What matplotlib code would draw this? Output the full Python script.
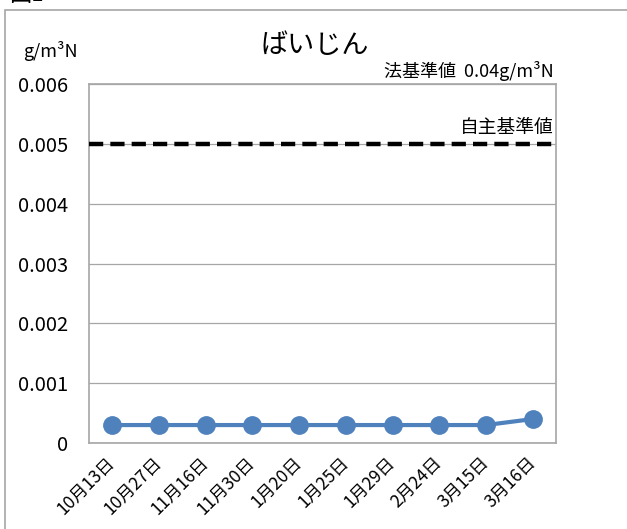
import matplotlib
matplotlib.use("Agg")
import matplotlib.pyplot as plt
from matplotlib.patches import Rectangle

plt.rcParams['font.family'] = ['Noto Sans CJK JP', 'DejaVu Sans']

dates = ["10月13日", "10月27日", "11月16日", "11月30日", "1月20日",
         "1月25日", "1月29日", "2月24日", "3月15日", "3月16日"]
dust = [0.0003, 0.0003, 0.0003, 0.0003, 0.0003,
        0.0003, 0.0003, 0.0003, 0.0003, 0.0004]
self_limit = 0.005
yticks = [0, 0.001, 0.002, 0.003, 0.004, 0.005, 0.006]
ytick_labels = ["0", "0.001", "0.002", "0.003", "0.004", "0.005", "0.006"]

W, H = 627, 529
fig = plt.figure(figsize=(W / 100, H / 100), dpi=100)

# outer frame of the figure panel
fig.patches.append(Rectangle((5 / W, -0.1), 1.1, (H - 10) / H + 0.1,
                             transform=fig.transFigure, fill=False,
                             edgecolor="#a6a6a6", linewidth=1.2))
fig.text(9 / W, 1 - 1 / H, "図1", fontsize=16, va="baseline", ha="left")

ax = fig.add_axes([89 / W, 1 - 443 / H, (556 - 89) / W, (443 - 84) / H])
x = list(range(len(dates)))

ax.set_ylim(0, 0.006)
ax.set_xlim(-0.5, len(dates) - 0.5)
ax.set_yticks(yticks)
ax.set_yticklabels(ytick_labels, fontsize=14.5)
ax.yaxis.grid(True, color="#a6a6a6", linewidth=0.9)
ax.set_axisbelow(True)
ax.tick_params(axis="y", length=0, pad=15)
ax.tick_params(axis="x", length=0, pad=12)
for s in ax.spines.values():
    s.set_color("#a6a6a6")
    s.set_linewidth(1.2)

ax.axhline(self_limit, color="black", linestyle=(0, (3.2, 1.6)), linewidth=3.2, zorder=3)
ax.plot(x, dust, color="#4f81bd", linewidth=3, marker="o", markersize=12.5, zorder=4)

ax.set_xticks(x)
ax.set_xticklabels(dates, rotation=45, ha="right", va="center",
                   rotation_mode="anchor", fontsize=12.5)

fig.text(315 / W, 1 - 46 / H, "ばいじん", fontsize=19.5, ha="center", va="center")
fig.text(50 / W, 1 - 51 / H, "g/m³N", fontsize=13, ha="center", va="center")
fig.text(554 / W, 1 - 71 / H, "法基準値  0.04g/m³N", fontsize=13, ha="right", va="center")
ax.text(9.45, self_limit + 0.00010, "自主基準値", fontsize=13.5, ha="right", va="bottom")

fig.savefig("out.png", dpi=100)
